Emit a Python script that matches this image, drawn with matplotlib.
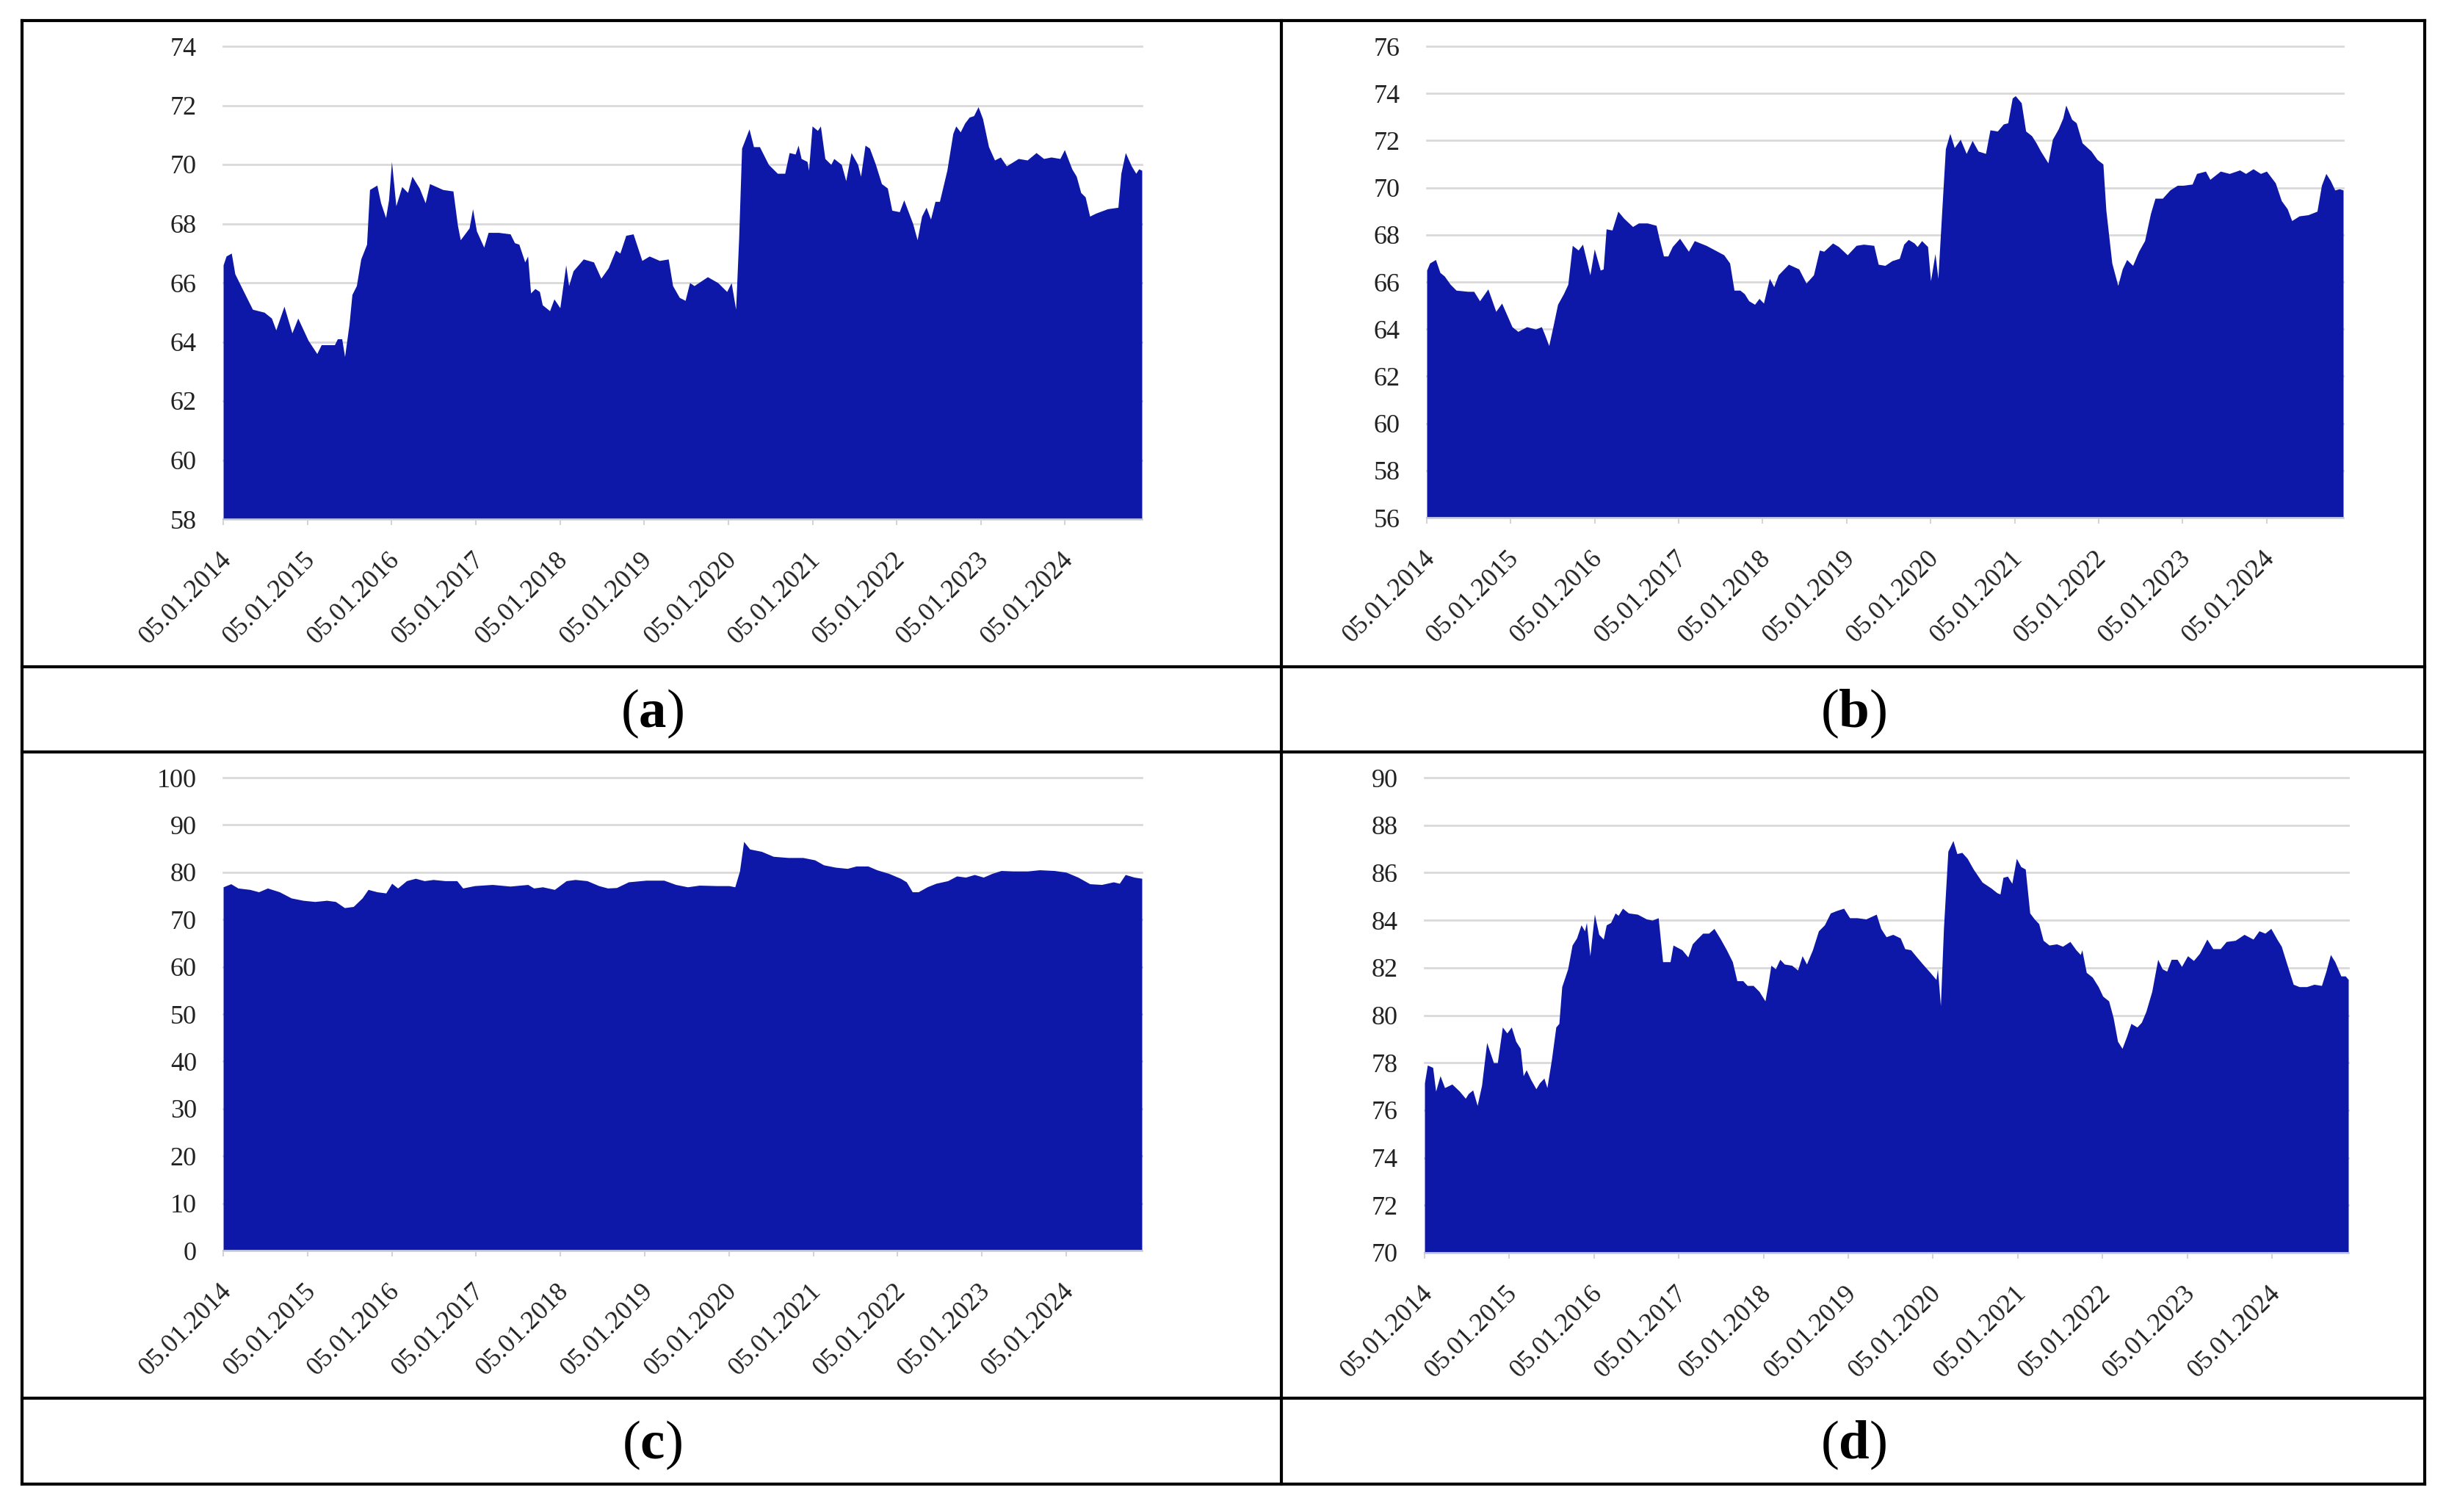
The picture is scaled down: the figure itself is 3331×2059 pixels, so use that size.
import matplotlib.pyplot as plt
from matplotlib.transforms import ScaledTranslation

plt.rcParams['font.family'] = ['Liberation Serif', 'DejaVu Serif']
plt.rcParams['mathtext.fontset'] = 'custom'
plt.rcParams['mathtext.rm'] = 'Liberation Serif'
plt.rcParams['mathtext.bf'] = 'Liberation Serif:bold'

tick_years = list(range(2014, 2025))
tick_labels = ['05.01.%d' % y for y in tick_years]

# x values are years since 05.01.2014
t_a = [0, 0.035, 0.097, 0.139, 0.243, 0.348, 0.487, 0.574, 0.626, 0.723, 0.817, 0.887,
       1.009, 1.113, 1.165, 1.322, 1.357, 1.409, 1.443, 1.496, 1.530, 1.583, 1.635, 1.704,
       1.739, 1.826, 1.871, 1.930, 1.965, 2.0, 2.052, 2.122, 2.191, 2.243, 2.330, 2.4,
       2.452, 2.609, 2.730, 2.783, 2.817, 2.922, 2.963, 3.009, 3.096, 3.148, 3.270, 3.409,
       3.461, 3.513, 3.583, 3.617, 3.652, 3.704, 3.757, 3.791, 3.878, 3.930, 4.0, 4.070,
       4.104, 4.157, 4.278, 4.4, 4.487, 4.574, 4.661, 4.713, 4.783, 4.870, 4.974, 5.061,
       5.183, 5.287, 5.339, 5.419, 5.488, 5.541, 5.594, 5.647, 5.753, 5.876, 5.982, 6.035,
       6.088, 6.124, 6.159, 6.247, 6.300, 6.371, 6.477, 6.583, 6.671, 6.724, 6.795, 6.830,
       6.866, 6.936, 6.954, 6.996, 7.060, 7.095, 7.148, 7.219, 7.254, 7.343, 7.396, 7.459,
       7.537, 7.572, 7.625, 7.678, 7.749, 7.820, 7.890, 7.943, 8.032, 8.085, 8.138, 8.191,
       8.244, 8.297, 8.350, 8.403, 8.456, 8.509, 8.597, 8.668, 8.703, 8.756, 8.809, 8.862,
       8.915, 8.968, 9.021, 9.092, 9.163, 9.233, 9.304, 9.445, 9.551, 9.657, 9.746, 9.834,
       9.940, 9.993, 10.081, 10.134, 10.187, 10.240, 10.293, 10.364, 10.505, 10.629, 10.664,
       10.717, 10.788, 10.841, 10.876, 10.912]
v_a = [66.6, 66.9, 67.0, 66.3, 65.7, 65.1, 65.0, 64.8, 64.4, 65.2, 64.3, 64.8,
       64.05, 63.6, 63.9, 63.9, 64.1, 64.1, 63.5, 64.6, 65.6, 65.9, 66.8, 67.3,
       69.15, 69.3, 68.7, 68.2, 68.8, 70.1, 68.6, 69.25, 69.05, 69.6, 69.2, 68.7,
       69.35, 69.15, 69.1, 67.95, 67.45, 67.85, 68.5, 67.75, 67.2, 67.7, 67.7, 67.65,
       67.35, 67.3, 66.7, 66.9, 65.65, 65.8, 65.7, 65.25, 65.05, 65.45, 65.15, 66.6,
       65.9, 66.4, 66.8, 66.7, 66.15, 66.5, 67.1, 67.0, 67.6, 67.65, 66.75, 66.9,
       66.75, 66.8, 65.9, 65.5, 65.4, 66.0, 65.9, 66.0, 66.2, 66.0, 65.7, 66.0,
       65.1, 67.5, 70.55, 71.2, 70.6, 70.6, 70.0, 69.7, 69.7, 70.4, 70.35, 70.65,
       70.2, 70.1, 69.8, 71.3, 71.15, 71.3, 70.2, 70.0, 70.2, 70.0, 69.45, 70.4,
       70.0, 69.6, 70.65, 70.55, 70.0, 69.35, 69.2, 68.45, 68.4, 68.8, 68.4, 68.0,
       67.45, 68.25, 68.55, 68.15, 68.75, 68.75, 69.8, 71.05, 71.3, 71.1, 71.4, 71.6,
       71.65, 71.95, 71.55, 70.6, 70.15, 70.25, 69.95, 70.2, 70.15, 70.4, 70.2, 70.25,
       70.2, 70.5, 69.85, 69.6, 69.05, 68.9, 68.25, 68.35, 68.5, 68.55, 69.7,
       70.4, 69.95, 69.7, 69.85, 69.8]

t_b = [0, 0.035, 0.105, 0.158, 0.210, 0.280, 0.350, 0.490, 0.560, 0.630, 0.729, 0.823,
       0.893, 1.016, 1.086, 1.191, 1.296, 1.366, 1.401, 1.454, 1.506, 1.559, 1.629, 1.681,
       1.734, 1.804, 1.856, 1.944, 1.996, 2.067, 2.102, 2.137, 2.207, 2.277, 2.347, 2.452,
       2.522, 2.627, 2.732, 2.767, 2.820, 2.872, 2.925, 3.012, 3.117, 3.187, 3.327, 3.433,
       3.538, 3.608, 3.660, 3.730, 3.783, 3.835, 3.905, 3.958, 4.011, 4.081, 4.133, 4.186,
       4.308, 4.431, 4.518, 4.606, 4.676, 4.729, 4.834, 4.904, 5.009, 5.114, 5.201, 5.324,
       5.377, 5.457, 5.540, 5.628, 5.681, 5.735, 5.805, 5.841, 5.894, 5.965, 6.0, 6.053,
       6.088, 6.124, 6.177, 6.230, 6.283, 6.354, 6.425, 6.496, 6.566, 6.655, 6.708, 6.796,
       6.867, 6.920, 6.973, 7.009, 7.080, 7.133, 7.204, 7.257, 7.310, 7.398, 7.451, 7.522,
       7.575, 7.611, 7.681, 7.735, 7.805, 7.912, 7.982, 8.053, 8.088, 8.159, 8.230, 8.283,
       8.336, 8.407, 8.478, 8.549, 8.619, 8.673, 8.761, 8.850, 8.938, 9.009, 9.115, 9.168,
       9.274, 9.327, 9.451, 9.558, 9.681, 9.752, 9.841, 9.929, 10.0, 10.106, 10.177, 10.248,
       10.301, 10.389, 10.496, 10.602, 10.655, 10.708, 10.761, 10.814, 10.867, 10.913]
v_b = [66.5, 66.8, 66.95, 66.4, 66.25, 65.9, 65.65, 65.6, 65.6, 65.2, 65.7, 64.75,
       65.1, 64.1, 63.9, 64.1, 64.0, 64.1, 63.8, 63.3, 64.15, 65.05, 65.5, 65.9,
       67.55, 67.35, 67.6, 66.3, 67.4, 66.5, 66.55, 68.25, 68.2, 69.0, 68.7, 68.35,
       68.5, 68.5, 68.4, 67.85, 67.1, 67.1, 67.5, 67.85, 67.3, 67.75, 67.55, 67.35,
       67.15, 66.8, 65.65, 65.65, 65.5, 65.2, 65.05, 65.3, 65.1, 66.15, 65.8, 66.3,
       66.75, 66.55, 65.95, 66.3, 67.35, 67.3, 67.65, 67.5, 67.15, 67.55, 67.6, 67.55,
       66.75, 66.7, 66.9, 67.0, 67.6, 67.8, 67.65, 67.5, 67.75, 67.5, 66.05, 67.2,
       66.15, 68.4, 71.65, 72.3, 71.7, 72.05, 71.45, 72.0, 71.55, 71.45, 72.45, 72.4,
       72.7, 72.75, 73.8, 73.9, 73.6, 72.4, 72.2, 71.9, 71.55, 71.05, 72.05, 72.5,
       72.95, 73.5, 72.9, 72.75, 71.9, 71.55, 71.2, 71.0, 69.05, 66.8, 65.85, 66.55,
       66.95, 66.7, 67.3, 67.75, 68.9, 69.55, 69.55, 69.9, 70.1, 70.1, 70.15, 70.6,
       70.7, 70.35, 70.7, 70.6, 70.75, 70.6, 70.8, 70.6, 70.7, 70.2, 69.45, 69.1,
       68.6, 68.8, 68.85, 69.0, 70.1, 70.6, 70.3, 69.9, 69.95, 69.9]

t_c = [0, 0.091, 0.175, 0.316, 0.421, 0.526, 0.667, 0.807, 0.947, 1.088, 1.228, 1.333,
       1.439, 1.544, 1.649, 1.719, 1.825, 1.930, 2.0, 2.070, 2.175, 2.281, 2.386, 2.491,
       2.632, 2.772, 2.842, 2.982, 3.193, 3.404, 3.614, 3.684, 3.789, 3.930, 4.070, 4.175,
       4.316, 4.456, 4.561, 4.667, 4.807, 5.018, 5.228, 5.368, 5.509, 5.649, 5.860, 6.0,
       6.070, 6.126, 6.175, 6.246, 6.386, 6.526, 6.702, 6.877, 7.018, 7.123, 7.263, 7.404,
       7.509, 7.649, 7.754, 7.895, 8.035, 8.105, 8.175, 8.246, 8.351, 8.456, 8.596, 8.702,
       8.807, 8.912, 9.018, 9.123, 9.228, 9.368, 9.544, 9.684, 9.860, 10.0, 10.140, 10.281,
       10.421, 10.561, 10.632, 10.702, 10.807, 10.898]
v_c = [76.9, 77.55, 76.65, 76.35, 75.85, 76.65, 75.85, 74.55, 74.05, 73.8, 74.05, 73.8,
       72.5, 72.75, 74.55, 76.35, 75.85, 75.6, 77.65, 76.65, 78.2, 78.7, 78.2, 78.45,
       78.2, 78.2, 76.65, 77.15, 77.4, 77.05, 77.4, 76.65, 76.9, 76.35, 78.2, 78.45,
       78.2, 77.15, 76.65, 76.75, 77.95, 78.3, 78.3, 77.4, 76.9, 77.25, 77.15, 77.15,
       76.9, 80.25, 86.5, 84.9, 84.4, 83.35, 83.1, 83.1, 82.6, 81.55, 81.05, 80.8,
       81.3, 81.3, 80.5, 79.75, 78.7, 77.95, 75.85, 75.85, 76.9, 77.65, 78.2, 79.2,
       78.95, 79.5, 78.95, 79.75, 80.35, 80.25, 80.25, 80.5, 80.35, 80.0, 78.95, 77.55,
       77.4, 77.95, 77.65, 79.5, 78.95, 78.7]

t_d = [0, 0.034, 0.097, 0.132, 0.184, 0.237, 0.324, 0.412, 0.482, 0.517, 0.569, 0.622,
       0.674, 0.734, 0.814, 0.860, 0.919, 0.972, 1.025, 1.077, 1.130, 1.165, 1.200, 1.252,
       1.315, 1.357, 1.410, 1.445, 1.497, 1.550, 1.586, 1.620, 1.690, 1.742, 1.795, 1.847,
       1.889, 1.911, 1.952, 2.005, 2.057, 2.110, 2.145, 2.197, 2.250, 2.285, 2.337, 2.407,
       2.512, 2.618, 2.687, 2.758, 2.810, 2.898, 2.933, 3.038, 3.108, 3.160, 3.213, 3.283,
       3.353, 3.416, 3.493, 3.563, 3.633, 3.686, 3.756, 3.808, 3.878, 3.948, 4.018, 4.053,
       4.088, 4.141, 4.193, 4.246, 4.333, 4.403, 4.456, 4.508, 4.578, 4.649, 4.719, 4.789,
       4.859, 4.946, 5.016, 5.104, 5.209, 5.331, 5.384, 5.447, 5.526, 5.614, 5.667, 5.737,
       5.807, 5.878, 5.965, 6.036, 6.053, 6.088, 6.124, 6.176, 6.236, 6.282, 6.341, 6.404,
       6.475, 6.580, 6.685, 6.756, 6.791, 6.826, 6.879, 6.931, 6.984, 7.037, 7.089, 7.142,
       7.195, 7.248, 7.300, 7.370, 7.458, 7.529, 7.616, 7.687, 7.739, 7.757, 7.809, 7.880,
       7.950, 8.003, 8.073, 8.126, 8.178, 8.231, 8.284, 8.336, 8.407, 8.459, 8.512, 8.582,
       8.652, 8.705, 8.758, 8.811, 8.881, 8.933, 9.004, 9.074, 9.144, 9.232, 9.302, 9.390,
       9.460, 9.566, 9.671, 9.777, 9.847, 9.917, 9.987, 10.058, 10.110, 10.180, 10.251,
       10.321, 10.409, 10.496, 10.584, 10.637, 10.690, 10.742, 10.813, 10.865, 10.900]
v_d = [77.15, 77.9, 77.8, 76.8, 77.45, 76.95, 77.1, 76.8, 76.5, 76.7, 76.85, 76.2,
       77.05, 78.85, 78.0, 78.0, 79.5, 79.25, 79.5, 78.9, 78.6, 77.45, 77.7, 77.3,
       76.9, 77.15, 77.35, 76.95, 78.1, 79.5, 79.65, 81.2, 81.95, 82.95, 83.25, 83.8,
       83.55, 83.9, 82.5, 84.25, 83.4, 83.2, 83.8, 83.9, 84.3, 84.2, 84.5, 84.3,
       84.25, 84.05, 84.0, 84.1, 82.25, 82.25, 82.95, 82.75, 82.45, 83.0, 83.2, 83.45,
       83.45, 83.65, 83.2, 82.75, 82.25, 81.45, 81.45, 81.25, 81.25, 81.0, 80.6, 81.3,
       82.1, 81.95, 82.35, 82.15, 82.1, 81.9, 82.5, 82.15, 82.75, 83.55, 83.8, 84.3,
       84.4, 84.5, 84.1, 84.1, 84.05, 84.25, 83.65, 83.3, 83.4, 83.25, 82.8, 82.75,
       82.45, 82.15, 81.8, 81.5, 81.95, 80.4, 83.65, 86.9, 87.35, 86.8, 86.85, 86.6,
       86.15, 85.6, 85.35, 85.15, 85.1, 85.8, 85.85, 85.55, 86.6, 86.25, 86.15, 84.3,
       84.05, 83.85, 83.15, 82.95, 83.0, 82.9, 83.1, 82.75, 82.55, 82.75, 81.8, 81.6,
       81.2, 80.8, 80.6, 79.9, 78.9, 78.6, 79.1, 79.65, 79.5, 79.7, 80.15, 81.0,
       82.35, 81.95, 81.85, 82.35, 82.35, 82.05, 82.5, 82.3, 82.6, 83.2, 82.8, 82.8,
       83.1, 83.15, 83.4, 83.2, 83.55, 83.45, 83.65, 83.2, 82.9, 82.1, 81.3,
       81.2, 81.2, 81.3, 81.25, 81.85, 82.55, 82.25, 81.65, 81.65, 81.5]

W, H, DPI = 3331, 2059, 100
BLUE = '#0E18A8'

fig = plt.figure(figsize=(W / DPI, H / DPI), dpi=DPI)

# table frame around the four panels
frame = fig.add_axes([0, 0, 1, 1])
frame.set_xlim(0, W)
frame.set_ylim(H, 0)
frame.axis('off')
xl, xm, xr = 30, 1745, 3302
rows = [28, 908, 1024, 1904, 2021]
for y in rows:
    frame.plot([xl, xr], [y, y], color='black', lw=3, solid_capstyle='projecting')
for x in (xl, xm, xr):
    frame.plot([x, x], [rows[0], rows[-1]], color='black', lw=3, solid_capstyle='projecting')


def panel(box, t, v, lo, hi, step, label, label_xy):
    left, top, right, bottom = box
    ax = fig.add_axes([left / W, 1 - bottom / H, (right - left) / W, (bottom - top) / H])
    ax.fill_between(t, v, lo, color=BLUE, lw=0)
    ax.set_xlim(0, t[-1])
    ax.set_ylim(lo, hi)
    ax.set_yticks(range(lo, hi + 1, step))
    ax.set_xticks(range(len(tick_labels)))
    ax.set_xticklabels(tick_labels, rotation=45, ha='right', va='center',
                       rotation_mode='anchor')
    ax.tick_params(axis='y', length=0, pad=26, labelsize=26, labelcolor='#222222')
    ax.tick_params(axis='x', length=6, width=1.5, color='#d4d4d4', pad=30,
                   labelsize=26, labelcolor='#222222')
    shift = ScaledTranslation(6 / DPI, 0, fig.dpi_scale_trans)
    for lab in ax.get_xticklabels():
        lab.set_transform(lab.get_transform() + shift)

    ax.yaxis.grid(True, color='#d9d9d9', lw=2)
    ax.set_axisbelow(True)
    for gl in ax.yaxis.get_gridlines():
        gl.set_clip_on(False)
    for s in ('top', 'left', 'right'):
        ax.spines[s].set_visible(False)
    ax.spines['bottom'].set_color('#b8c0e8')
    ax.spines['bottom'].set_linewidth(1.5)

    frame.text(label_xy[0], label_xy[1], r'($\mathbf{%s}$)' % label,
               ha='center', va='center', fontsize=54)
    return ax


panel((304, 63, 1555, 707), t_a, v_a, 58, 74, 2, 'a', (888, 972))
panel((1943, 63, 3191, 705), t_b, v_b, 56, 76, 2, 'b', (2524, 972))
panel((304, 1059, 1555, 1703), t_c, v_c, 0, 100, 10, 'c', (888, 1968))
panel((1940, 1059, 3198, 1706), t_d, v_d, 70, 90, 2, 'd', (2524, 1968))

fig.savefig('out.png', dpi=DPI)
